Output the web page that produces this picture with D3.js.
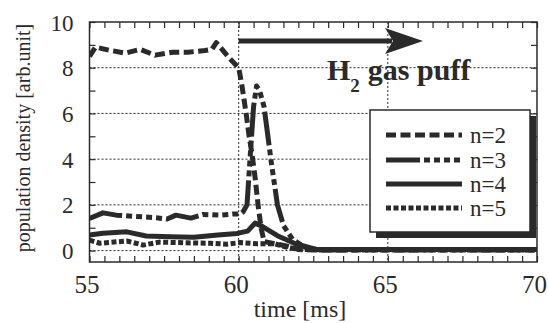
<!DOCTYPE html>
<html><head><meta charset="utf-8">
<script src="https://cdn.jsdelivr.net/npm/d3@7"></script>
<style>body{margin:0;background:#fff}svg{display:block}
svg text{font-family:"Liberation Serif","DejaVu Serif","Times New Roman",serif !important;}
</style>
</head><body><svg id="c" width="549" height="323"></svg>
<script>
// ---- data ----
const xTicksMajor = [55, 60, 65, 70];
const yTicksMajor = [0, 2, 4, 6, 8, 10];
const seriesNames = ["n=2", "n=3", "n=4", "n=5"];
const n2 = [[55.0,8.5],[55.2,8.9],[55.65,8.77],[56.2,8.64],[56.7,8.8],[57.2,8.55],[57.8,8.68],[58.3,8.68],[58.87,8.75],[59.1,8.8],[59.25,9.1],[59.7,8.4],[60.0,8.0],[60.1,7.3],[60.25,6.0],[60.35,5.0],[60.45,4.2],[60.55,3.2],[60.65,2.0],[60.75,1.0],[60.85,0.4],[61.2,0.3],[61.6,0.2],[62.0,0.05],[62.5,0.02],[70,0.02]];
const n3 = [[55.0,1.4],[55.45,1.65],[55.9,1.55],[56.45,1.5],[57.1,1.45],[57.6,1.38],[57.9,1.55],[58.4,1.42],[58.8,1.58],[59.4,1.55],[59.8,1.6],[60.05,1.6],[60.15,1.7],[60.28,2.0],[60.4,4.4],[60.5,6.3],[60.6,7.2],[60.7,7.0],[60.85,6.3],[61.0,4.8],[61.1,3.8],[61.3,2.0],[61.5,1.1],[61.8,0.5],[62.2,0.15],[62.7,0.03],[70,0.03]];
const n4 = [[55.0,0.68],[55.45,0.76],[56.25,0.82],[56.9,0.64],[57.7,0.6],[58.5,0.58],[59.3,0.68],[59.95,0.75],[60.3,0.85],[60.55,1.2],[60.8,1.05],[61.3,0.65],[61.9,0.3],[62.6,0.05],[70,0.05]];
const n5 = [[55.0,0.46],[55.35,0.32],[56.25,0.42],[56.8,0.24],[57.35,0.37],[58.25,0.34],[59.05,0.32],[59.6,0.28],[60.05,0.35],[60.6,0.3],[61.2,0.3],[61.6,0.15],[62.0,0.05],[70,0.04]];
const series = [n2, n3, n4, n5];
const dashes = ["10,4.5", "34,4,6,4,6,4,6,4,6,4", null, "5,2.5"];

// ---- chart ----
const svg = d3.select("#c");
const L = 89.5, R = 537, T = 22, B = 262;
const x = d3.scaleLinear([55, 70], [L, R]);
const y = d3.scaleLinear([-0.5, 10], [B, T]);
const ink = "#2a2a2a";
const serif = "Liberation Serif";

svg.append("rect").attr("width",549).attr("height",323).attr("fill","#fff");

// grid
const grid = svg.append("g").attr("stroke", ink).attr("stroke-width", 1).attr("stroke-dasharray", "2,2");
grid.selectAll("line.h").data([0,2,4,6,8]).join("line")
  .attr("x1", L).attr("x2", R).attr("y1", d => y(d)).attr("y2", d => y(d));
grid.selectAll("line.v").data([60,65]).join("line")
  .attr("y1", T).attr("y2", B).attr("x1", d => x(d)).attr("x2", d => x(d));

// minor ticks via axes
const xMinor = d3.range(55, 70.001, 0.5);
const yMinor = d3.range(0, 10.001, 1);
function styleAxis(g){ g.select(".domain").remove(); g.selectAll("line").attr("stroke", ink).attr("stroke-width", 1.2); g.selectAll("text").remove(); }
svg.append("g").attr("transform",`translate(0,${B})`).call(d3.axisBottom(x).tickValues(xMinor).tickSize(-6).tickFormat("")).call(styleAxis);
svg.append("g").attr("transform",`translate(0,${T})`).call(d3.axisTop(x).tickValues(xMinor).tickSize(-6).tickFormat("")).call(styleAxis);
svg.append("g").attr("transform",`translate(${L},0)`).call(d3.axisLeft(y).tickValues(yMinor).tickSize(-6).tickFormat("")).call(styleAxis);
svg.append("g").attr("transform",`translate(${R},0)`).call(d3.axisRight(y).tickValues(yMinor).tickSize(-6).tickFormat("")).call(styleAxis);

// major labels
const xl = svg.append("g").attr("transform",`translate(0,${B})`).call(d3.axisBottom(x).tickValues(xTicksMajor).tickSize(0).tickPadding(0));
xl.select(".domain").remove();
xl.attr("font-family", null);
xl.selectAll("text").attr("font-size", 25).attr("fill", ink).attr("dy", 0).attr("y", 31).attr("dx", -3);
const yl = svg.append("g").attr("transform",`translate(${L},0)`).call(d3.axisLeft(y).tickValues(yTicksMajor).tickSize(0).tickPadding(16));
yl.select(".domain").remove();
yl.attr("font-family", null);
yl.selectAll("text").attr("font-size", 23).attr("fill", ink).attr("dy", "0.35em");

// frame
svg.append("rect").attr("x", L).attr("y", T).attr("width", R-L).attr("height", B-T)
  .attr("fill","none").attr("stroke", ink).attr("stroke-width", 1.5);

// lines
svg.append("clipPath").attr("id","clip").append("rect").attr("x",L).attr("y",T).attr("width",R-L).attr("height",B-T);
const line = d3.line().x(d => x(d[0])).y(d => y(d[1]));
const lg = svg.append("g").attr("clip-path","url(#clip)");
series.forEach((s, i) => {
  lg.append("path").datum(s).attr("d", line).attr("fill","none").attr("stroke", ink)
    .attr("stroke-width", 5).attr("stroke-dasharray", dashes[i]).attr("stroke-linejoin","round");
});

// arrow
const ay = 41;
svg.append("line").attr("x1", x(60)).attr("x2", 392).attr("y1", ay).attr("y2", ay).attr("stroke", ink).attr("stroke-width", 5);
svg.append("path").attr("d", `M385,${ay-13} L423,${ay} L385,${ay+13} L393,${ay} Z`).attr("fill", ink);

// annotation
const ann = svg.append("text").attr("x", 327).attr("y", 80).attr("font-weight","bold").attr("font-size", 30).attr("fill", ink);
ann.append("tspan").text("H");
ann.append("tspan").attr("font-size", 19).attr("dy", 12).text("2");
ann.append("tspan").attr("dy", -12).attr("dx", 8).text("gas puff");

// legend
const lx = 370, ly = 110, lw = 160, lh = 122;
svg.append("rect").attr("x", lx+6).attr("y", ly+6).attr("width", lw).attr("height", lh).attr("fill", ink);
svg.append("rect").attr("x", lx).attr("y", ly).attr("width", lw).attr("height", lh).attr("fill","#fff").attr("stroke", ink).attr("stroke-width", 1.5);
const legY = [135, 160, 184, 208];
seriesNames.forEach((n, i) => {
  svg.append("line").attr("x1", 386).attr("x2", 462).attr("y1", legY[i]).attr("y2", legY[i])
    .attr("stroke", ink).attr("stroke-width", 5).attr("stroke-dasharray", dashes[i]);
  svg.append("text").attr("x", 470).attr("y", legY[i] + 8).attr("font-size", 23).attr("fill", ink).text(n);
});

// axis titles
svg.append("text").attr("x", 300).attr("y", 317).attr("text-anchor","middle").attr("font-size", 24).attr("fill", ink).text("time [ms]");
svg.append("text").attr("transform","translate(30,138) rotate(-90)").attr("text-anchor","middle").attr("font-size", 20).attr("fill", ink).text("population density [arb.unit]");
</script></body></html>
